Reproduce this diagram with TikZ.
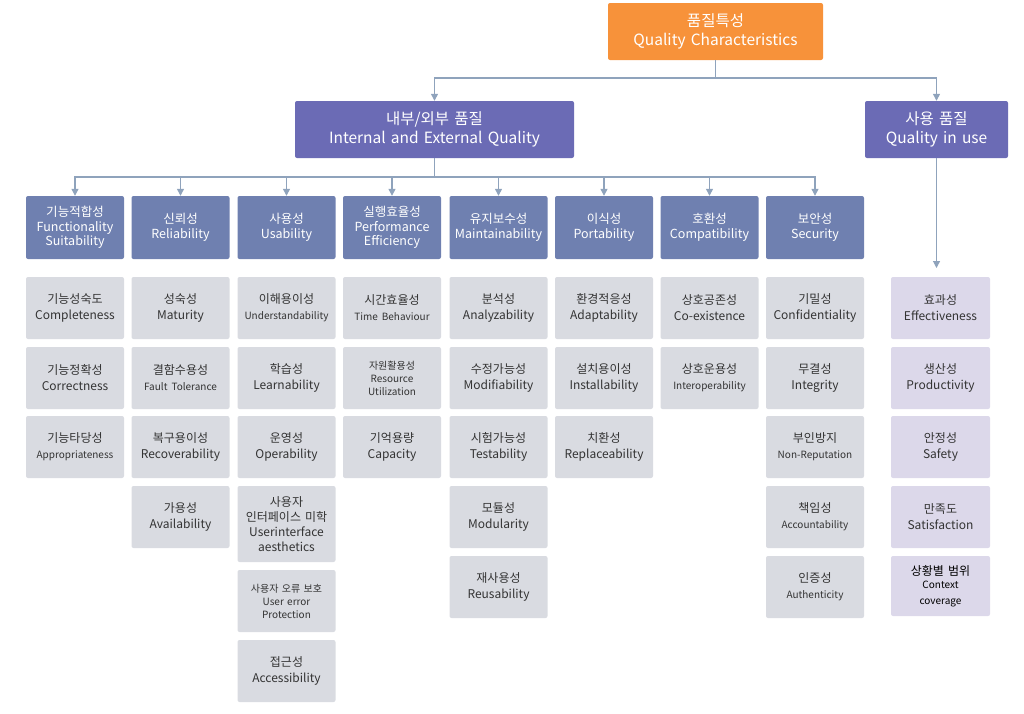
\documentclass[tikz,border=0pt]{standalone}
\usepackage{fontspec}
\setmainfont{Noto Sans CJK KR}
\usetikzlibrary{arrows.meta}
\definecolor{org}{HTML}{F7923A}
\definecolor{pur}{HTML}{6B6BB5}
\definecolor{cat}{HTML}{6F80B0}
\definecolor{itm}{HTML}{D9DBE1}
\definecolor{lav}{HTML}{DCD8EA}
\definecolor{ln}{HTML}{8FA3BC}
\definecolor{tx}{HTML}{333333}
\newcommand\smf{\fontsize{10}{13}\selectfont}
\begin{document}
\begin{tikzpicture}[x=1pt,y=-1pt,
 box/.style={rounded corners=2pt,align=center,inner sep=0pt,text width=#1-2pt,minimum width=#1},
 top/.style={box=215,fill=org,text=white,font=\fontsize{15.5}{19}\selectfont,minimum height=57},
 big/.style={box=279,fill=pur,text=white,font=\fontsize{15.5}{19}\selectfont,minimum height=57},
 cat/.style={box=98,fill=cat,text=white,font=\fontsize{12.5}{14.5}\selectfont,minimum height=63},
 it/.style={box=98,fill=itm,text=tx,font=\fontsize{12}{16}\selectfont,minimum height=62},
 sm/.style={font=\smf},
 qi/.style={box=99,fill=lav,text=tx,font=\fontsize{12}{16}\selectfont,minimum height=62},
 con/.style={draw=ln,line width=1.2pt},
 arr/.style={con,-{Triangle[width=7pt,length=7pt]}}]
\useasboundingbox (0,0) rectangle (1024,713);
\node[top] (q) at (715.5,31.5) {품질특성\\Quality Characteristics};
\node[big] (ie) at (434.5,129.5) {내부/외부 품질\\Internal and External Quality};
\node[big,box=143] (qu) at (936.5,129.5) {사용 품질\\Quality in use};
\coordinate (j1) at (715.5,78);
\draw[con] (q.south) -- (j1);
\draw[arr] (j1) -| (ie.north);
\draw[arr] (j1) -| (qu.north);
% categories
\foreach \n/\x/\t in {c1/75/기능적합성\\Functionality\\Suitability, c2/180.5/신뢰성\\Reliability, c3/286.5/사용성\\Usability, c4/392/실행효율성\\Performance\\Efficiency, c5/498.5/유지보수성\\Maintainability, c6/604/이식성\\Portability, c7/709.5/호환성\\Compatibility, c8/815/보안성\\Security}
  \node[cat] (\n) at (\x,227.5) {\t};
\coordinate (j2) at (434.5,177);
\draw[con] (ie.south) -- (j2);
\foreach \n in {c1,c2,c3,c4,c5,c6,c7,c8} \draw[arr] (j2) -| (\n.north);
\coordinate (j3) at (936.5,268);
\draw[arr] (qu.south) -- (j3);
% items
\node[it] (a1) at (75,308) {기능성숙도\\Completeness};
\node[it] (a2) at (75,378) {기능정확성\\Correctness};
\node[it] (a3) at (75,447) {기능타당성\\{\smf Appropriateness}};
\node[it] (b1) at (180.5,308) {성숙성\\Maturity};
\node[it] (b2) at (180.5,378) {결함수용성\\{\smf Fault Tolerance}};
\node[it] (b3) at (180.5,447) {복구용이성\\Recoverability};
\node[it] (b4) at (180.5,517) {가용성\\Availability};
\node[it] (u1) at (286.5,308) {이해용이성\\{\smf Understandability}};
\node[it] (u2) at (286.5,378) {학습성\\Learnability};
\node[it] (u3) at (286.5,447) {운영성\\Operability};
\node[it,minimum height=76,font=\fontsize{12}{15}\selectfont] (u4) at (286.5,524) {사용자\\인터페이스 미학\\Userinterface\\aesthetics};
\node[it,sm] (u5) at (286.5,601) {사용자 오류 보호\\User error\\Protection};
\node[it] (u6) at (286.5,671) {접근성\\Accessibility};
\node[it] (p1) at (392,308) {시간효율성\\{\smf Time Behaviour}};
\node[it,sm] (p2) at (392,378) {자원활용성\\Resource\\Utilization};
\node[it] (p3) at (392,447) {기억용량\\Capacity};
\node[it] (m1) at (498.5,308) {분석성\\Analyzability};
\node[it] (m2) at (498.5,378) {수정가능성\\Modifiability};
\node[it] (m3) at (498.5,447) {시험가능성\\Testability};
\node[it] (m4) at (498.5,517) {모듈성\\Modularity};
\node[it] (m5) at (498.5,587) {재사용성\\Reusability};
\node[it] (o1) at (604,308) {환경적응성\\Adaptability};
\node[it] (o2) at (604,378) {설치용이성\\Installability};
\node[it] (o3) at (604,447) {치환성\\Replaceability};
\node[it] (h1) at (709.5,308) {상호공존성\\Co-existence};
\node[it] (h2) at (709.5,378) {상호운용성\\{\smf Interoperability}};
\node[it] (s1) at (815,308) {기밀성\\Confidentiality};
\node[it] (s2) at (815,378) {무결성\\Integrity};
\node[it] (s3) at (815,447) {부인방지\\{\smf Non-Reputation}};
\node[it] (s4) at (815,517) {책임성\\{\smf Accountability}};
\node[it] (s5) at (815,587) {인증성\\{\smf Authenticity}};
\node[qi] (e1) at (940.5,308) {효과성\\Effectiveness};
\node[qi] (e2) at (940.5,378) {생산성\\Productivity};
\node[qi] (e3) at (940.5,447) {안정성\\Safety};
\node[qi] (e4) at (940.5,517) {만족도\\Satisfaction};
\node[qi,minimum height=60] (e5) at (940.5,586) {\color{black}상황별 범위\\\smf\color{black} Context\\coverage};
\end{tikzpicture}
\end{document}
